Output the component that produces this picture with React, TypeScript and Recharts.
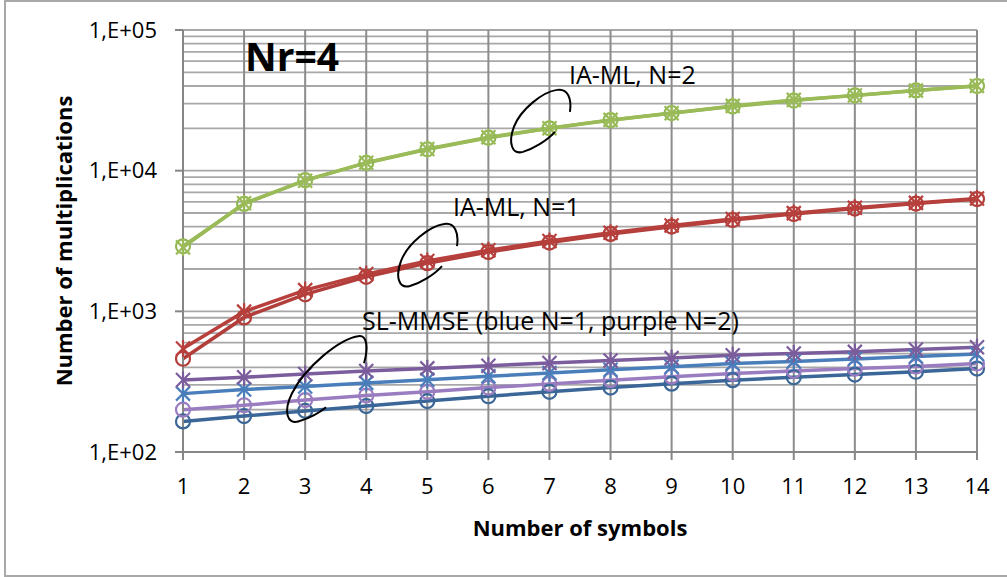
import React from 'react';
import { LineChart, Line, XAxis, YAxis, CartesianGrid, ReferenceDot } from 'recharts';

// ---------- data ----------
const symbols = [1, 2, 3, 4, 5, 6, 7, 8, 9, 10, 11, 12, 13, 14];

// IA-ML, N=2 (green)
const iaMlN2Star = [2850, 5860, 8490, 11400, 14270, 17280, 20040, 22960, 25620, 28870, 31860, 34180, 37080, 40080];
const iaMlN2Circle = [2900, 5800, 8560, 11350, 14200, 17150, 20000, 22850, 25700, 28600, 31500, 34300, 37200, 40000];
// IA-ML, N=1 (red)
const iaMlN1Star = [545, 995, 1415, 1840, 2280, 2720, 3160, 3620, 4070, 4530, 4990, 5450, 5900, 6350];
const iaMlN1Circle = [460, 905, 1320, 1760, 2200, 2640, 3080, 3550, 4000, 4460, 4920, 5380, 5830, 6280];
// SL-MMSE N=1 (blue)
const slN1Star = [260, 278, 292, 310, 326, 345, 364, 384, 404, 425, 440, 458, 478, 498];
const slN1Circle = [165, 180, 196, 212, 230, 249, 268, 287, 306, 324, 340, 355, 372, 392];
// SL-MMSE N=2 (purple)
const slN2Star = [325, 340, 358, 376, 393, 411, 429, 447, 465, 488, 502, 515, 535, 556];
const slN2Circle = [200, 215, 234, 252, 268, 287, 305, 324, 343, 361, 377, 392, 405, 426];

const yTicks = [100, 1000, 10000, 100000];
const yTickLabels = ['1,E+02', '1,E+03', '1,E+04', '1,E+05'];

const xTitle = 'Number of symbols';
const yTitle = 'Number of multiplications';

// ---------- build ----------
const data = symbols.map((n, i) => ({
  n,
  g1: iaMlN2Star[i],
  g2: iaMlN2Circle[i],
  r1: iaMlN1Star[i],
  r2: iaMlN1Circle[i],
  b1: slN1Star[i],
  b2: slN1Circle[i],
  p1: slN2Star[i],
  p2: slN2Circle[i],
}));

const gridValues: number[] = [];
[100, 1000, 10000].forEach((d) => {
  for (let m = 1; m <= 9; m++) gridValues.push(d * m);
});
gridValues.push(100000);

const FONT = "'Open Sans', 'DejaVu Sans', sans-serif";

const series = [
  { key: 'b2', color: '#3B6698', marker: 'circle' },
  { key: 'p2', color: '#9A7DC0', marker: 'circle' },
  { key: 'b1', color: '#4A7EBB', marker: 'star' },
  { key: 'p1', color: '#7B5C9C', marker: 'star' },
  { key: 'r2', color: '#B23E3B', marker: 'circle' },
  { key: 'r1', color: '#B7403D', marker: 'star' },
  { key: 'g2', color: '#93B855', marker: 'circle' },
  { key: 'g1', color: '#9BBB59', marker: 'star' },
];

const makeDot = (marker: string, color: string, key: string) => (props: any) => {
  const { cx, cy, index } = props;
  if (cx == null || cy == null) return <g key={`${key}-${index}`} />;
  if (marker === 'circle') {
    return (
      <circle key={`${key}-${index}`} cx={cx} cy={cy} r={7} fill="none" stroke={color} strokeWidth={2.2} />
    );
  }
  const s = 7;
  return (
    <g key={`${key}-${index}`} stroke={color} strokeWidth={2.2}>
      <line x1={cx - s} y1={cy - s} x2={cx + s} y2={cy + s} />
      <line x1={cx - s} y1={cy + s} x2={cx + s} y2={cy - s} />
      <line x1={cx} y1={cy - s - 1.5} x2={cx} y2={cy + s + 1.5} />
    </g>
  );
};

// annotation decorations (anchored at data coordinates)
const arcA = 'M 29 -9 C 31 -22 27 -33 16 -31 C 2 -29 -20 -12 -27 6 C -33 22 -29 34 -18 31 C -8 28 6 20 14 11';
const arcB = 'M 37 -16 C 41 -30 41 -45 31 -43 C 12 -40 -22 -12 -35 14 C -44 32 -40 46 -28 42 C -18 39 -7 33 -1 28';

const arcs = [
  { x: 6.86, y: 22590, path: arcA },
  { x: 5.011, y: 2512, path: arcA },
  { x: 3.358, y: 329, path: arcB },
];

const notes = [
  { x: 2.015, y: 51480, text: 'Nr=4', bold: true, size: 39 },
  { x: 7.32, y: 41200, text: 'IA-ML, N=2', bold: false, size: 25 },
  { x: 5.42, y: 4783, text: 'IA-ML, N=1', bold: false, size: 25 },
  { x: 3.93, y: 741, text: 'SL-MMSE (blue N=1, purple N=2)', bold: false, size: 25 },
];

const XTitle = (props: any) => {
  const vb = props.viewBox || { x: 183, y: 452, width: 794, height: 125 };
  return (
    <text
      x={vb.x + vb.width / 2}
      y={vb.y + 84}
      textAnchor="middle"
      fontFamily={FONT}
      fontWeight="bold"
      fontSize={22}
      fill="#000"
    >
      {xTitle}
    </text>
  );
};

const YTitle = (props: any) => {
  const vb = props.viewBox || { x: 0, y: 30, width: 183, height: 422 };
  const cx = vb.x + 72;
  const cy = vb.y + vb.height / 2;
  return (
    <text
      x={cx}
      y={cy}
      transform={`rotate(-90, ${cx}, ${cy})`}
      textAnchor="middle"
      fontFamily={FONT}
      fontWeight="bold"
      fontSize={22}
      fill="#000"
    >
      {yTitle}
    </text>
  );
};

export default function App() {
  return (
    <div style={{ position: 'absolute', left: 0, top: 0, width: 1007, height: 577, background: '#fff', overflow: 'hidden' }}>
      <div
        style={{
          position: 'absolute',
          left: 4,
          top: 0,
          width: 1020,
          height: 577,
          border: '2px solid #a8a8a8',
          boxSizing: 'border-box',
        }}
      />
      <div style={{ position: 'absolute', left: 0, top: 0 }}>
        <LineChart width={1007} height={577} data={data} margin={{ top: 30, right: 30, bottom: 0, left: 0 }}>
          <CartesianGrid horizontal vertical={false} horizontalValues={gridValues} stroke="#a8a8a8" strokeWidth={1.8} />
          <CartesianGrid horizontal={false} vertical verticalValues={symbols} stroke="#8c8c8c" strokeWidth={2} />
          <XAxis
            dataKey="n"
            type="number"
            domain={[1, 14]}
            ticks={symbols}
            interval={0}
            height={125}
            tickSize={8}
            tickMargin={18}
            axisLine={{ stroke: '#868686', strokeWidth: 2 }}
            tickLine={{ stroke: '#868686', strokeWidth: 2 }}
            tick={{ fill: '#000', fontSize: 22, fontFamily: FONT }}
            label={{ content: XTitle }}
          />
          <YAxis
            type="number"
            scale="log"
            domain={[100, 100000]}
            allowDataOverflow
            ticks={yTicks}
            interval={0}
            width={183}
            tickSize={8}
            tickMargin={18}
            tickFormatter={(v: number, i: number) => yTickLabels[i]}
            axisLine={{ stroke: '#868686', strokeWidth: 2 }}
            tickLine={{ stroke: '#868686', strokeWidth: 2 }}
            tick={{ fill: '#000', fontSize: 22, fontFamily: FONT }}
            label={{ content: YTitle }}
          />
          {series.map((s) => (
            <Line
              key={s.key}
              type="linear"
              dataKey={s.key}
              stroke={s.color}
              strokeWidth={3.5}
              dot={makeDot(s.marker, s.color, s.key)}
              activeDot={false}
              isAnimationActive={false}
            />
          ))}
          {arcs.map((a, i) => (
            <ReferenceDot
              key={`arc-${i}`}
              x={a.x}
              y={a.y}
              ifOverflow="visible"
              shape={(p: any) => (
                <path
                  d={a.path}
                  transform={`translate(${p.cx}, ${p.cy})`}
                  fill="none"
                  stroke="#000"
                  strokeWidth={2}
                />
              )}
            />
          ))}
          {notes.map((t, i) => (
            <ReferenceDot
              key={`note-${i}`}
              x={t.x}
              y={t.y}
              ifOverflow="visible"
              shape={(p: any) => (
                <text
                  x={p.cx}
                  y={p.cy}
                  textAnchor="start"
                  fontFamily={FONT}
                  fontWeight={t.bold ? 'bold' : 'normal'}
                  fontSize={t.size}
                  fill="#000"
                >
                  {t.text}
                </text>
              )}
            />
          ))}
        </LineChart>
      </div>
    </div>
  );
}
